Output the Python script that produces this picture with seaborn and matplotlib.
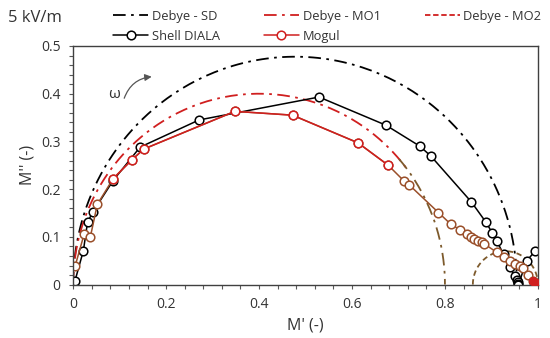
import numpy as np
import pandas as pd
import matplotlib
matplotlib.use("Agg")
import matplotlib.pyplot as plt
from matplotlib.ticker import MultipleLocator
import seaborn as sns

sns.set_theme(style="white")
plt.rcParams['font.family'] = ['Open Sans', 'DejaVu Sans']

# ---- data ----
shell_x = [0.004, 0.022, 0.031, 0.043, 0.086, 0.144, 0.271, 0.529, 0.673, 0.746, 0.770,
           0.857, 0.888, 0.902, 0.911, 0.926, 0.940, 0.950, 0.955, 0.957, 0.958, 0.958,
           0.976, 0.994]
shell_y = [0.008, 0.071, 0.131, 0.153, 0.218, 0.288, 0.345, 0.393, 0.334, 0.290, 0.269,
           0.173, 0.131, 0.108, 0.092, 0.064, 0.036, 0.018, 0.010, 0.005, 0.002, 0.000,
           0.050, 0.070]

mogul_x = [0.004, 0.024, 0.037, 0.052, 0.086, 0.127, 0.152, 0.348, 0.472, 0.613, 0.678,
           0.711, 0.723, 0.786, 0.812, 0.832, 0.847, 0.855, 0.863, 0.872, 0.879, 0.885,
           0.911, 0.928, 0.940, 0.951, 0.961, 0.968, 0.979, 0.990, 0.995, 0.998]
mogul_y = [0.038, 0.107, 0.100, 0.168, 0.222, 0.262, 0.284, 0.363, 0.355, 0.297, 0.250,
           0.218, 0.209, 0.151, 0.127, 0.115, 0.105, 0.099, 0.096, 0.092, 0.089, 0.085,
           0.068, 0.057, 0.050, 0.043, 0.038, 0.035, 0.021, 0.008, 0.003, 0.000]

# Debye models: (M_s, M_inf)
debye_names = ["Debye - SD", "Debye - MO1", "Debye - MO2"]
debye_ms = [0.0, 0.0, 0.86]
debye_minf = [0.955, 0.80, 1.0]

x_ticks = [0, 0.2, 0.4, 0.6, 0.8, 1]
y_ticks = [0, 0.1, 0.2, 0.3, 0.4, 0.5]

RED = "#d01f1f"
BROWN = "#9a4f2a"
OLIVE = "#7d5a2c"
DASHDOT = [7, 3, 1.5, 3]

def debye_curve(ms, minf):
    wt = np.logspace(-4, 4, 800)
    mp = ms + (minf - ms) * wt**2 / (1 + wt**2)
    mpp = (minf - ms) * wt / (1 + wt**2)
    return mp, mpp

fig = plt.figure(figsize=(5.5, 3.38), dpi=100)
ax = fig.add_axes([0.133, 0.158, 0.845, 0.706])

# Debye SD
mp, mpp = debye_curve(debye_ms[0], debye_minf[0])
sns.lineplot(x=mp, y=mpp, sort=False, estimator=None, ax=ax, color="black", linewidth=1.3)
h_sd = ax.lines[-1]; h_sd.set_dashes(DASHDOT)
# Debye MO1 (lower part appears brownish)
mp, mpp = debye_curve(debye_ms[1], debye_minf[1])
sns.lineplot(x=mp[mp < 0.72], y=mpp[mp < 0.72], sort=False, estimator=None,
             ax=ax, color=RED, linewidth=1.3)
h_mo1 = ax.lines[-1]; h_mo1.set_dashes(DASHDOT)
sns.lineplot(x=mp[mp >= 0.70], y=mpp[mp >= 0.70], sort=False, estimator=None,
             ax=ax, color=OLIVE, linewidth=1.3)
ax.lines[-1].set_dashes(DASHDOT)
# Debye MO2
mp, mpp = debye_curve(debye_ms[2], debye_minf[2])
sns.lineplot(x=mp, y=mpp, sort=False, estimator=None, ax=ax, color=OLIVE, linewidth=1.3)
ax.lines[-1].set_dashes([3, 2])
h_mo2 = plt.Line2D([], [], color=RED, linewidth=1.3, dashes=[3, 1.5])

MS = 6.2
# Shell DIALA
df_s = pd.DataFrame({"x": shell_x, "y": shell_y})
sns.lineplot(data=df_s, x="x", y="y", sort=False, estimator=None, ax=ax, color="black",
             linewidth=1.1, marker="o", markersize=MS, markerfacecolor="white",
             markeredgecolor="black", markeredgewidth=1.1)
h_sh = ax.lines[-1]

# Mogul
df_m = pd.DataFrame({"x": mogul_x, "y": mogul_y})
sns.lineplot(data=df_m, x="x", y="y", sort=False, estimator=None, ax=ax, color=BROWN,
             linewidth=1.1, marker="o", markersize=MS, markerfacecolor="white",
             markeredgecolor=BROWN, markeredgewidth=1.1)
mid = df_m[(df_m.x >= 0.08) & (df_m.x <= 0.70)]
sns.lineplot(data=mid, x="x", y="y", sort=False, estimator=None, ax=ax, color=RED,
             linewidth=1.1, marker="o", markersize=MS, markerfacecolor="white",
             markeredgecolor=RED, markeredgewidth=1.1)
end = df_m[df_m.x >= 0.985]
sns.scatterplot(data=end, x="x", y="y", ax=ax, color=RED, s=38, edgecolor=RED, zorder=5)
h_mo = plt.Line2D([], [], color=RED, linewidth=1.1, marker="o", markersize=MS,
                  markerfacecolor="white", markeredgecolor=RED, markeredgewidth=1.1)

if ax.get_legend() is not None:
    ax.get_legend().remove()

ax.set_xlim(0, 1)
ax.set_ylim(0, 0.5)
ax.set_xticks(x_ticks)
ax.set_xticklabels([f"{t:g}" for t in x_ticks])
ax.set_yticks(y_ticks)
ax.set_yticklabels([f"{t:g}" for t in y_ticks])
ax.xaxis.set_minor_locator(MultipleLocator(0.04))
ax.yaxis.set_minor_locator(MultipleLocator(0.02))
ax.tick_params(axis="both", which="both", direction="out", length=3, width=0.8,
               color="#595959", labelsize=10, labelcolor="#333333")
ax.tick_params(axis="x", which="major", pad=6)
ax.tick_params(axis="y", which="major", pad=6)
ax.tick_params(axis="both", which="both", top=False, right=False, bottom=True, left=True)
for s in ax.spines.values():
    s.set_color("#404040")
    s.set_linewidth(1.0)
ax.grid(False)
ax.set_xlabel("M' (-)", fontsize=11.5, color="#333333", labelpad=4)
ax.set_ylabel("M'' (-)", fontsize=11.5, color="#333333", labelpad=4)

# omega arrow
ax.annotate("", xy=(0.175, 0.436), xytext=(0.108, 0.385),
            arrowprops=dict(arrowstyle="-|>", color="#555555", lw=0.9,
                            connectionstyle="arc3,rad=-0.35", mutation_scale=10))
ax.text(0.088, 0.398, "ω", fontsize=11, ha="center", va="center", color="#333333")

fig.text(0.015, 0.948, "5 kV/m", fontsize=12, color="#333333", ha="left", va="center")

fig.legend([h_sd, h_sh, h_mo1, h_mo, h_mo2],
           ["Debye - SD", "Shell DIALA", "Debye - MO1", "Mogul", "Debye - MO2"],
           ncol=3, loc="upper left", bbox_to_anchor=(0.185, 1.006), frameon=False,
           fontsize=9.3, handlelength=2.7, handletextpad=0.3, columnspacing=3.4,
           labelspacing=0.55, labelcolor="#333333")

fig.savefig("out.png", dpi=100)
